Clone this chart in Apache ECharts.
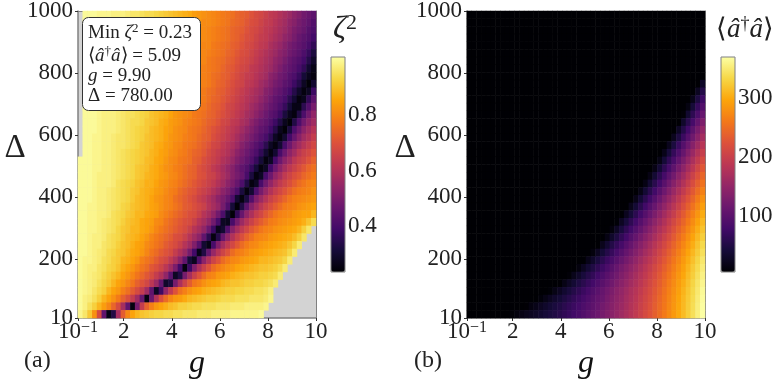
<!DOCTYPE html>
<html>
<head>
<meta charset="utf-8">
<style>html,body{margin:0;background:#fff}#chart{width:773px;height:379px}</style>
<script src="https://cdn.jsdelivr.net/npm/echarts@6/dist/echarts.min.js"></script>
</head>
<body>
<div id="chart"></div>
<script>
const gTicks = [0.1, 2, 4, 6, 8, 10];
const deltaTicks = [10, 200, 400, 600, 800, 1000];
const zetaTicks = [0.4, 0.6, 0.8];
const photonTicks = [100, 200, 300];
const inferno = ["#000004", "#160b39", "#420a68", "#6a176e", "#932667", "#bc3754", "#dd513a", "#f37819", "#fca50a", "#f6d746", "#fcffa4"];

// zeta^2 in hundredths. top row first, missing cells = grey
const zetaRows = [
  [null,100,100,100,99,99,99,98,98,98,97,96,96,95,94,94,93,92,91,90,89,88,87,86,84,83,82,81,80,79,78,77,76,74,73,72,70,68,67,65,63,62,60,58,56,53,51,48,46,44],
  [null,100,100,100,99,99,99,98,98,98,97,96,96,95,94,94,93,92,91,90,89,88,86,85,84,83,81,81,80,79,78,77,75,74,73,71,69,68,66,64,63,61,59,57,54,52,49,47,45,42],
  [null,100,100,100,99,99,99,98,98,98,97,96,96,95,94,93,93,92,90,90,88,87,86,85,83,82,81,80,79,78,77,76,74,73,72,70,68,67,65,63,62,60,58,56,53,50,48,46,43,41],
  [null,100,100,100,99,99,99,98,98,98,97,96,96,95,94,93,93,91,90,89,88,87,86,84,83,82,81,80,79,78,77,76,74,73,71,69,68,66,64,63,61,59,57,54,52,49,46,44,42,39],
  [null,100,100,100,99,99,98,98,98,97,97,96,95,95,94,93,92,91,90,89,88,87,85,84,83,81,80,80,78,77,76,75,73,72,70,68,67,65,63,62,59,57,55,52,49,47,45,43,40,36],
  [null,100,100,100,99,99,98,98,98,97,97,96,95,94,94,93,92,91,89,88,87,86,85,83,82,81,80,79,78,77,76,74,73,71,69,68,66,64,62,60,58,56,53,51,48,46,44,41,37,32],
  [null,100,100,100,99,99,98,98,98,97,97,96,95,94,93,93,91,90,89,88,87,86,84,83,82,81,80,78,77,76,75,73,72,70,68,67,65,63,61,59,57,54,52,49,46,44,42,39,34,29],
  [null,100,100,100,99,99,98,98,98,97,96,96,95,94,93,92,91,90,89,88,87,85,84,82,81,80,79,78,77,76,74,72,71,69,67,66,63,62,60,58,56,53,50,47,45,43,40,36,30,26],
  [null,100,100,100,99,99,98,98,98,97,96,95,95,94,93,92,91,90,89,87,86,85,83,82,81,80,79,78,76,75,73,72,70,68,66,64,63,61,59,57,53,51,48,46,43,41,37,31,27,25],
  [null,100,100,100,99,99,98,98,98,97,96,95,94,94,93,92,91,90,88,87,86,84,83,82,81,80,79,78,76,74,73,71,69,67,66,63,62,60,57,55,52,49,47,44,42,38,34,28,24,30],
  [null,100,100,100,99,99,98,98,98,97,96,95,94,94,93,92,90,89,88,87,85,84,82,81,80,79,78,76,75,73,72,70,68,66,64,62,60,58,56,52,50,47,45,42,39,34,29,25,28,38],
  [null,100,100,100,99,99,98,98,97,97,96,95,94,93,92,91,90,89,88,86,85,83,82,81,80,79,78,76,74,73,71,69,67,65,63,61,59,57,54,51,48,45,43,40,35,30,25,27,36,44],
  [null,100,100,100,99,98,98,98,97,96,96,95,94,93,92,91,90,88,87,86,84,83,81,80,79,78,77,75,73,72,70,67,66,64,62,60,57,55,52,49,46,44,41,37,31,26,26,35,42,49],
  [null,100,100,100,99,98,98,98,97,96,95,95,94,93,92,90,89,88,87,85,83,82,81,80,78,77,76,74,73,71,69,67,65,63,61,58,56,53,50,47,44,42,38,32,27,25,33,41,48,54],
  [null,100,100,100,99,98,98,98,97,96,95,94,94,93,91,90,89,87,86,84,83,82,80,79,78,77,75,73,72,70,67,66,63,62,59,57,53,50,47,45,42,38,33,27,24,33,41,48,53,57],
  [null,100,100,100,99,98,98,98,97,96,95,94,93,92,91,89,88,87,85,84,82,81,80,78,77,76,74,72,70,68,66,64,62,60,57,54,51,48,45,43,39,34,27,24,32,41,47,53,57,61],
  [null,100,100,99,99,98,98,97,96,96,95,94,93,92,90,89,88,87,85,83,82,81,79,78,77,75,73,72,69,67,65,63,61,58,55,52,49,46,43,40,35,28,25,30,39,46,52,57,60,64],
  [null,100,100,99,99,98,98,97,96,96,95,94,93,91,90,89,87,86,84,83,81,80,78,77,76,74,72,70,67,66,63,61,59,56,52,49,46,43,40,35,28,25,30,40,47,53,57,61,64,67],
  [null,100,100,99,99,98,98,97,96,95,94,93,92,91,90,88,87,85,84,82,81,79,78,76,74,73,71,68,66,64,62,60,57,53,50,47,44,41,36,30,25,30,40,47,53,57,62,65,67,70],
  [100,100,100,99,99,98,98,97,96,95,94,93,92,91,89,88,86,85,83,81,80,78,77,76,73,72,69,67,65,63,60,58,55,51,48,45,42,37,31,25,28,39,47,53,57,62,65,67,70,73],
  [100,100,100,99,99,98,98,97,96,95,94,93,91,90,89,87,86,84,82,81,79,78,76,74,73,70,68,66,63,61,58,55,52,48,45,42,37,31,25,28,39,47,53,58,62,65,68,71,74,76],
  [100,100,100,99,98,98,98,97,96,95,94,93,91,90,88,87,86,84,83,81,80,78,76,74,73,70,69,66,65,62,59,56,52,49,46,40,32,25,28,40,47,54,58,63,66,69,71,74,76,78],
  [100,100,100,99,98,98,98,97,95,94,93,92,90,89,87,87,85,83,82,80,79,77,75,73,71,69,67,65,63,60,57,53,50,46,41,33,25,28,40,48,54,59,63,66,69,72,75,77,79,80],
  [100,100,100,99,98,98,97,96,95,94,93,91,90,88,87,86,84,83,81,79,78,75,73,71,70,67,65,63,60,57,53,50,46,41,32,25,30,41,49,55,60,64,67,70,73,76,78,79,80,82],
  [100,100,100,99,98,98,97,96,95,94,93,91,89,88,87,85,83,82,80,79,76,74,72,70,68,65,63,60,57,53,50,46,41,30,25,32,42,51,56,61,65,68,71,74,77,79,80,81,82,83],
  [100,100,99,99,98,98,97,96,95,93,92,90,89,88,87,85,84,82,80,79,77,75,72,71,69,67,65,61,58,55,49,42,31,24,33,44,52,57,62,66,69,72,75,78,79,80,82,83,84,85],
  [100,100,99,99,98,98,97,95,94,93,91,90,88,88,86,85,84,81,79,77,75,73,71,69,68,65,61,58,54,48,41,30,24,36,46,54,59,64,67,71,74,77,79,80,81,83,84,85,85,88],
  [100,100,99,99,98,97,96,95,94,92,90,89,88,86,85,84,81,80,77,75,73,71,69,68,65,61,58,54,48,40,28,27,40,49,56,61,65,69,72,75,78,79,81,82,83,84,85,87,90,94],
  [100,100,99,99,98,97,96,95,93,91,90,88,88,86,85,83,80,78,76,74,72,70,68,65,61,58,54,47,38,27,30,42,52,58,63,67,71,74,77,79,80,82,83,84,85,86,88,92,96],
  [100,100,99,98,98,97,95,94,93,91,89,88,87,85,83,80,78,76,74,72,69,68,65,61,57,53,45,35,25,34,46,54,60,65,69,73,76,79,80,81,83,84,85,86,87,89,92,96],
  [100,100,99,98,98,96,95,94,92,90,89,87,85,84,81,79,77,75,72,70,68,65,61,57,51,43,30,26,40,51,58,63,67,71,75,78,80,81,83,84,85,86,87,88,90,93,97],
  [100,100,99,98,97,96,94,93,91,90,88,86,85,83,80,77,75,72,70,68,64,60,56,49,39,26,33,46,55,61,66,70,75,78,79,81,83,84,85,86,87,88,89,90,93,97],
  [100,99,99,98,97,95,94,92,91,88,87,85,83,79,77,75,72,69,67,63,59,53,45,31,27,42,53,60,66,70,75,78,80,81,83,84,85,86,88,88,89,90,91,93,97],
  [100,99,98,98,96,95,93,92,90,87,85,83,80,77,75,71,69,66,62,57,50,39,25,38,51,59,65,70,75,78,80,82,83,85,86,87,88,89,90,90,91,92,94,97],
  [100,99,98,97,96,94,92,90,88,85,83,80,77,74,71,68,64,60,54,44,28,33,49,58,65,70,75,79,80,83,84,85,87,88,89,90,90,91,92,92,93,94,97],
  [100,99,98,97,95,93,91,88,85,83,80,77,73,70,67,62,56,46,29,32,49,59,66,72,77,79,82,84,85,86,88,89,90,90,91,92,92,93,93,94,95,97],
  [100,99,98,96,94,92,88,85,83,79,76,72,68,64,57,45,28,38,54,63,70,76,79,82,84,85,87,88,89,90,91,92,92,93,93,94,94,95,95,96,98],
  [100,98,97,95,92,88,85,82,78,73,69,64,57,46,25,47,60,69,75,80,83,84,86,88,89,90,91,92,92,93,94,94,94,95,95,95,96,96,96,97,99],
  [100,98,95,92,88,84,80,74,68,58,45,25,49,64,73,79,83,85,87,89,90,92,92,93,94,94,95,95,95,96,96,96,97,97,97,98,98,98,98,99],
  [99,96,91,82,68,45,26,33,58,72,80,85,88,90,91,92,93,93,94,94,95,95,96,96,96,97,97,97,98,98,98,98,99,99,99,99,99,99,100]
];

// photon number. each row lists its rightmost cells, everything left of them is black (0)
const photonRows = [
  [],[],[],[],[],[],[],[],[],
  [29],
  [25,53],
  [19,47,74],
  [14,41,67,93],
  [8,35,61,86,112],
  [5,31,57,82,107,131],
  [5,28,53,78,102,126,150],
  [23,48,72,96,119,142,166],
  [22,46,70,94,116,139,161,184],
  [19,43,66,89,111,134,156,178,199],
  [17,40,63,85,107,129,150,172,193,214],
  [16,39,61,83,104,125,146,167,188,208,229],
  [16,38,59,81,102,122,143,162,183,203,223,243],
  [15,37,58,78,99,119,139,158,178,197,217,236,255],
  [17,38,58,78,98,117,136,156,174,193,212,231,249,268],
  [18,39,58,77,96,115,134,152,171,189,207,225,243,262,280],
  [20,39,58,77,95,113,131,149,167,185,202,220,237,255,273,291],
  [4,23,41,60,78,95,113,130,147,164,181,198,216,232,250,267,284,302],
  [7,26,43,61,78,95,112,128,145,161,177,194,211,227,243,260,277,294,311],
  [11,28,45,62,78,94,110,126,142,158,174,189,205,222,238,253,270,286,303,319],
  [15,32,48,64,79,95,110,125,140,155,171,186,201,216,232,248,263,279,295,311,327],
  [5,21,36,52,66,81,96,110,125,139,154,168,183,197,212,227,242,257,272,287,303,319,335],
  [11,26,40,54,68,83,96,110,123,137,151,165,178,193,207,221,236,250,265,280,295,310,325,341],
  [4,19,32,46,59,72,85,98,111,123,136,149,163,176,189,202,216,230,244,259,273,287,302,317,332,348],
  [12,25,38,50,62,74,86,99,112,124,135,147,159,172,185,197,211,224,237,251,265,279,293,308,323,337,353],
  [8,20,31,43,54,65,77,88,99,110,121,133,144,156,168,180,192,205,217,231,244,257,271,285,298,313,327,342,357],
  [6,17,28,38,49,58,68,79,89,99,109,120,131,142,153,164,175,187,199,211,224,236,249,263,276,290,303,317,332,346,361],
  [7,17,26,35,44,53,62,71,81,91,100,110,120,130,141,150,161,172,182,193,205,216,229,241,254,267,280,293,307,321,335,349,365],
  [9,17,25,33,40,48,56,64,72,81,89,98,107,114,125,135,145,154,165,175,186,197,209,220,232,245,257,270,283,296,310,323,337,352,367],
  [6,13,19,26,32,39,45,51,58,65,72,80,88,95,104,112,122,130,139,149,158,168,179,189,201,212,223,235,247,259,272,285,298,311,325,339,354,369],
  [3,8,12,16,21,25,30,35,41,46,51,57,63,70,77,84,92,100,108,116,124,133,142,152,161,171,181,192,203,214,225,237,249,261,274,287,300,313,327,341,355,370]
];

const colCount = 50;
const cols = Array.from({ length: colCount }, (_, i) => i);
const rowIdx = zetaRows.map((_, i) => i);

const zetaData = [];
zetaRows.forEach((row, j) => row.forEach((v, i) => {
  if (v !== null) zetaData.push([i, j, v / 100]);
}));
const photonData = [];
photonRows.forEach((row, j) => {
  const pad = colCount - row.length;
  cols.forEach(i => photonData.push([i, j, i < pad ? 0 : row[i - pad]]));
});

const serif = "Liberation Serif";
const grey = "#808080";
const panels = [
  { left: 78, bar: 331 },
  { left: 467, bar: 721 }
];
const gFormat = v => (v === 0.1 ? "10{sup|\u22121}" : String(v));

const grid = [];
const xAxis = [];
const yAxis = [];
panels.forEach((p, n) => {
  const main = grid.length;
  grid.push({ left: p.left, top: 11, width: 238, height: 307, outerBoundsMode: "none", show: true, backgroundColor: "#d3d3d3", borderWidth: 0 });
  grid.push({ left: p.bar, top: 57, width: 14, height: 215, outerBoundsMode: "none", show: true, backgroundColor: "transparent", borderColor: grey, borderWidth: 1, z: 6 });
  // hidden band axes carry the cells, and draw the top and right frame
  xAxis.push({ type: "category", gridIndex: main, data: cols, position: "top",
    axisLine: { lineStyle: { color: grey } }, axisTick: { show: false }, axisLabel: { show: false }, splitLine: { show: false } });
  yAxis.push({ type: "category", gridIndex: main, data: rowIdx, inverse: true, position: "right",
    axisLine: { lineStyle: { color: grey } }, axisTick: { show: false }, axisLabel: { show: false }, splitLine: { show: false } });
  xAxis.push({ type: "value", gridIndex: main, min: 0.1, max: 10, position: "bottom",
    name: "g", nameLocation: "middle", nameGap: 30, nameMoveOverlap: false,
    nameTextStyle: { fontFamily: serif, fontStyle: "italic", fontSize: 32, color: "#111" },
    axisLine: { lineStyle: { color: grey, width: 1.5 } },
    axisTick: { customValues: gTicks, length: 3, lineStyle: { color: "#333" } },
    axisLabel: { customValues: gTicks, formatter: gFormat, margin: 2, fontFamily: serif, fontSize: 23, color: "#222", showMinLabel: true, showMaxLabel: true,
      rich: { sup: { fontFamily: serif, fontSize: 16, color: "#222", verticalAlign: "top", padding: [0, 0, 8, 0] } } },
    splitLine: { show: false } });
  yAxis.push({ type: "value", gridIndex: main, min: 10, max: 1000, position: "left",
    axisLine: { lineStyle: { color: grey, width: 1.5 } },
    axisTick: { customValues: deltaTicks, length: 3, lineStyle: { color: "#333" } },
    axisLabel: { customValues: deltaTicks, formatter: v => String(v), margin: 5, fontFamily: serif, fontSize: 23, color: "#222", showMinLabel: true, showMaxLabel: true },
    splitLine: { show: false } });
  // colorbar ticks
  xAxis.push({ type: "value", gridIndex: main + 1, show: false, min: 0, max: 1 });
  yAxis.push({ type: "value", gridIndex: main + 1, position: "right",
    min: n === 0 ? 0.234 : 5, max: n === 0 ? 1.009 : 370,
    axisLine: { show: false },
    axisTick: { customValues: n === 0 ? zetaTicks : photonTicks, length: 3, lineStyle: { color: "#333" } },
    axisLabel: { customValues: n === 0 ? zetaTicks : photonTicks, formatter: v => (n === 0 ? v.toFixed(1) : String(v)), margin: 3, fontFamily: serif, fontSize: 23, color: "#222" },
    splitLine: { show: false } });
});

const textEl = (x, y, text, size, rich, align) => ({
  type: "text", x, y, z: 100,
  style: { text, fontFamily: serif, fontSize: size, fill: "#222", align: align || "left", verticalAlign: "middle", rich }
});
const mathRich = size => ({
  i: { fontFamily: serif, fontStyle: "italic", fontSize: size, fill: "#222" },
  s: { fontFamily: serif, fontSize: Math.round(size * 0.68), fill: "#222", verticalAlign: "top", padding: [0, 0, Math.round(size * 0.4), 0] },
  r: { fontFamily: serif, fontSize: size, fill: "#222" }
});

const chart = echarts.init(document.getElementById("chart"));
chart.setOption({
  animation: false,
  backgroundColor: "#fff",
  grid,
  xAxis,
  yAxis,
  visualMap: [
    { type: "continuous", seriesIndex: 0, min: 0.234, max: 1.009, left: 331, top: 57, itemWidth: 14, itemHeight: 215, padding: 0, text: ["", ""], textGap: 0, showLabel: false, calculable: false, inRange: { color: inferno }, z: 1 },
    { type: "continuous", seriesIndex: 1, min: 5, max: 370, left: 721, top: 57, itemWidth: 14, itemHeight: 215, padding: 0, text: ["", ""], textGap: 0, showLabel: false, calculable: false, inRange: { color: inferno }, z: 1 }
  ],
  series: [
    { type: "heatmap", xAxisIndex: 0, yAxisIndex: 0, data: zetaData, progressive: 0, emphasis: { disabled: true } },
    { type: "heatmap", xAxisIndex: 3, yAxisIndex: 3, data: photonData, progressive: 0, emphasis: { disabled: true } }
  ],
  graphic: [
    { type: "rect", z: 100, shape: { x: 82.5, y: 17.5, width: 118, height: 93, r: 6 }, style: { fill: "#fff", stroke: "#333", lineWidth: 1 } },
    textEl(88, 33, "{r|Min }{i|\u03b6}{s|2}{r| = 0.23}", 19, mathRich(19)),
    textEl(88, 56, "{r|\u27e8}{i|\u00e2}{s|\u2020}{i|\u00e2}{r|\u27e9 = 5.09}", 19, mathRich(19)),
    textEl(88, 76, "{i|g}{r| = 9.90}", 19, mathRich(19)),
    textEl(88, 96, "{r|\u0394 = 780.00}", 19, mathRich(19)),
    textEl(345, 30, "{i|\u03b6}{s|2}", 32, mathRich(32), "center"),
    textEl(745, 30, "{r|\u27e8}{i|\u00e2}{s|\u2020}{i|\u00e2}{r|\u27e9}", 27, mathRich(27), "center"),
    textEl(15, 148, "\u0394", 33, null, "center"),
    textEl(405, 148, "\u0394", 33, null, "center"),
    textEl(24, 361, "(a)", 24),
    textEl(414, 361, "(b)", 24)
  ]
});
</script>
</body>
</html>
